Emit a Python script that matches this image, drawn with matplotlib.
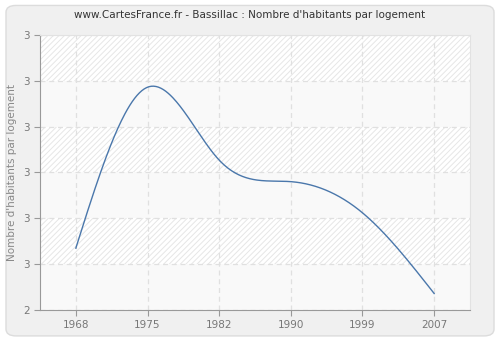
import numpy as np
import matplotlib
matplotlib.use('agg')
import matplotlib.pyplot as plt
from matplotlib.patches import FancyBboxPatch, Rectangle
from matplotlib.ticker import FuncFormatter

years = ['1968', '1975', '1982', '1990', '1999', '2007']
values = [2.635, 2.986, 2.827, 2.780, 2.712, 2.536]
yticks = [2.5, 2.6, 2.7, 2.8, 2.9, 3.0, 3.1]


def natural_spline(x, y, n=300):
    # natural cubic spline through the points
    x = np.asarray(x, float)
    y = np.asarray(y, float)
    k = len(x)
    h = np.diff(x)
    A = np.zeros((k, k))
    b = np.zeros(k)
    A[0, 0] = A[-1, -1] = 1
    for i in range(1, k - 1):
        A[i, i - 1] = h[i - 1]
        A[i, i] = 2 * (h[i - 1] + h[i])
        A[i, i + 1] = h[i]
        b[i] = 3 * ((y[i + 1] - y[i]) / h[i] - (y[i] - y[i - 1]) / h[i - 1])
    c = np.linalg.solve(A, b)
    xs = np.linspace(x[0], x[-1], n)
    ys = np.empty_like(xs)
    for j, t in enumerate(xs):
        i = min(np.searchsorted(x, t, side='right') - 1, k - 2)
        d = t - x[i]
        bb = (y[i + 1] - y[i]) / h[i] - h[i] * (2 * c[i] + c[i + 1]) / 3
        dd = (c[i + 1] - c[i]) / (3 * h[i])
        ys[j] = y[i] + bb * d + c[i] * d ** 2 + dd * d ** 3
    return xs, ys


plt.rcParams['hatch.linewidth'] = 0.7

fig = plt.figure(figsize=(5, 3.4), dpi=100, facecolor='white')
fig.patches.append(FancyBboxPatch((0.012, 0.012), 0.976, 0.972,
                                  boxstyle='round,pad=0,rounding_size=0.02',
                                  transform=fig.transFigure, facecolor='#f0f0f0',
                                  edgecolor='#dcdcdc', linewidth=1, zorder=-10))

ax = fig.add_axes([0.08, 0.0882, 0.86, 0.809])
ax.set_facecolor('white')
ax.add_patch(Rectangle((0, 0), 1, 1, transform=ax.transAxes, facecolor='none',
                       edgecolor='#e6e6e6', hatch='//////', lw=0, zorder=0.2))

idx = np.arange(len(years))
ax.set_xlim(-0.5, len(years) - 0.5)
ax.set_ylim(yticks[0], yticks[-1])

for i in range(1, len(yticks) - 1, 2):
    ax.axhspan(yticks[i - 1], yticks[i], color='#f9f9f9', zorder=0.5, lw=0)

xs, ys = natural_spline(idx, values)
ax.plot(xs, ys, color='#4a77ab', lw=1, zorder=3)

ax.set_xticks(idx)
ax.set_xticklabels(years)
ax.set_yticks(yticks)
ax.yaxis.set_major_formatter(FuncFormatter(lambda v, p: '%.0f' % v))
ax.grid(True, color='#e0e0e0', linestyle=(0, (4, 3)), lw=0.9, zorder=1)
ax.set_axisbelow(True)

for s in ['top', 'right']:
    ax.spines[s].set_color('#e2e2e2')
for s in ['left', 'bottom']:
    ax.spines[s].set_color('#999999')
ax.tick_params(colors='#999999', labelcolor='#777777', labelsize=7.5, length=4)

ax.set_ylabel("Nombre d'habitants par logement", color='#888888', fontsize=7.5)
fig.text(0.5, 0.955, "www.CartesFrance.fr - Bassillac : Nombre d'habitants par logement",
         ha='center', va='center', fontsize=7.5, color='#333333')

fig.savefig('out.png', dpi=100, facecolor='white')
